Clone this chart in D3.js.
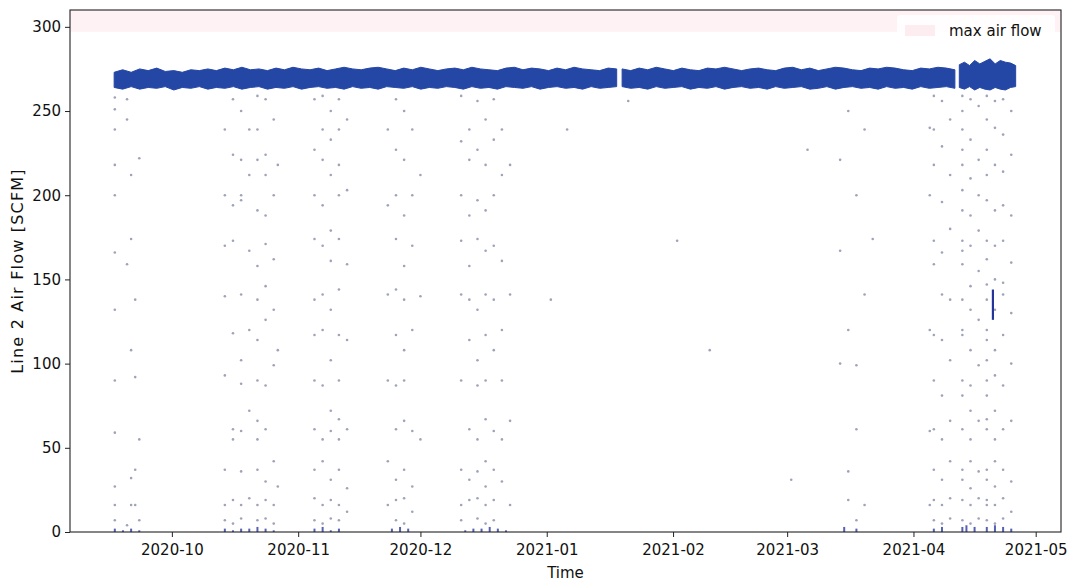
<!DOCTYPE html>
<html>
<head>
<meta charset="utf-8">
<script src="https://cdn.jsdelivr.net/npm/d3@7"></script>
<style>
  html, body { margin: 0; padding: 0; background: #fff; }
  svg text { font-family: "DejaVu Sans", sans-serif; fill: #111; }
</style>
</head>
<body>
<svg id="chart" width="1071" height="584"></svg>
<script>
// x domain of the axes (matplotlib default 5% margins round the data)
const timeDomain = ["2020-09-06T00:00", "2021-05-07T05:00"];
const yTicks = [0, 50, 100, 150, 200, 250, 300];
const maxFlowBand = [297, 310];

// blue band: upper / lower envelope of the dense flow trace, one array per run
const bandStarts = ["2020-09-16T20:00", "2021-01-19T12:00", "2021-04-12T06:00"];
const bandEnds = ["2021-01-18T04:00", "2021-04-11T04:00", "2021-04-26T02:00"];
const bandHigh = [
  [273,274.5,273,275,274,275.5,273.5,274,273,274.5,274,275,274,275.5,274.5,276,274.5,275,274,275.5,274.5,276,275,274.5,275.5,274,275,276,275,274.5,275.5,276,275,274,275.5,274.5,276,275,274,275,275.5,274.5,276,275,274.5,274,275.5,276,274.5,275.5,275,274,275.5,274.5,276,275,274.5,274,275.5,275],
  [275,274,275.5,274.5,276,275,274,275.5,274.5,274,275.5,275,276,275,274,275,275.5,274.5,274,275.5,276,274.5,275.5,274,275,276,275.5,274.5,274,275.5,275,276,275.5,274.5,274,275.5,275,276,275.5,274.5],
  [277.5,279,277,280,278,279.5,281,278,280,279,278.5,277]
];
const bandLow = [
  [264,263,264.5,263,264,263.5,264.5,262.5,264,263.5,264.5,263,264,263.5,264.5,263,264,264.5,263,264,263.5,264.5,263,264,264.5,263.5,264,263,264.5,263.5,264,263,264.5,264,263.5,264.5,263,264,263.5,264.5,264,263,264.5,263.5,264,263,264.5,264,263.5,264.5,263,264,264.5,263.5,264,263,264.5,263.5,264,264.5],
  [264.5,263.5,264,263,264.5,263.5,264,264.5,263,264,263.5,264.5,263,264,264.5,263.5,264,263,264.5,263.5,264,264.5,263,263.5,264.5,263,264,264.5,263.5,264,263,264.5,263.5,264,263,264.5,263.5,264,264.5,263.5],
  [264,263,264.5,262.5,264,263,262.5,264,263,262.5,264,264.5]
];

// scattered readings below the band (day, values on that day)
const dotDays = [
  "2020-09-17","2020-09-20","2020-09-21","2020-09-22","2020-09-23",
  "2020-10-14","2020-10-16","2020-10-18","2020-10-20","2020-10-22","2020-10-24","2020-10-26","2020-10-27",
  "2020-11-05","2020-11-07","2020-11-09","2020-11-11","2020-11-13",
  "2020-11-23","2020-11-25","2020-11-27","2020-11-29","2020-12-01",
  "2020-12-11","2020-12-13","2020-12-15","2020-12-17","2020-12-19","2020-12-21","2020-12-23",
  "2021-01-02","2021-01-06","2021-01-21","2021-02-02","2021-02-10","2021-03-02","2021-03-06",
  "2021-03-14","2021-03-16","2021-03-18","2021-03-20","2021-03-22",
  "2021-04-05","2021-04-06","2021-04-08","2021-04-10","2021-04-13","2021-04-15","2021-04-17",
  "2021-04-19","2021-04-21","2021-04-23","2021-04-25"
];
const dotValues = [
  [258,251,239,218,200,166,132,90,59,27,16,7],
  [257,245,159,4],
  [212,174,108,32,16],
  [138,92,37,16],
  [222,55,7],
  [239,200,170,140,93,37,16,7],
  [257,224,194,173,118,61,55,19,5],
  [250,221,200,197,141,102,88,60,36,16,8],
  [239,212,167,120,72,20],
  [259,239,221,191,158,138,114,90,66,55,37,16,7],
  [257,224,212,188,171,146,126,87,61,30,19,8],
  [245,200,162,132,99,42,16,5],
  [218,108,27],
  [257,227,200,174,138,117,90,61,37,20,7],
  [259,239,221,194,170,141,120,87,55,42,16,5],
  [250,233,212,179,161,132,102,72,60,31,19,8],
  [257,239,218,200,174,144,117,90,67,55,37,16,7],
  [245,203,159,114,61,26,12],
  [239,194,141,90,42,16],
  [257,227,200,174,144,117,87,61,31,19,7],
  [250,221,188,158,138,108,90,66,37,20,5],
  [239,200,170,120,60,27,12],
  [212,140,55],
  [259,232,200,173,141,90,37,16,7],
  [239,221,188,158,138,114,61,31,19],
  [256,227,197,174,132,102,87,55,36,20,8],
  [245,218,191,167,141,117,90,67,42,27,16,5],
  [257,233,200,170,138,108,60,37,19,7],
  [239,212,161,120,90,55,30],
  [218,141,66,16],
  [138],[239],[256],[173],[108],[31],[227],
  [221,167,100],
  [250,120,36,19],
  [200,99,61,7],
  [239,141,16],
  [174],
  [240,200,120,60,16],
  [259,239,218,173,159,117,90,61,37,19,7],
  [256,229,196,166,141,114,81,55,31,16,5],
  [245,212,180,138,102,66,42,20,8],
  [259,250,239,227,218,203,191,173,167,159,138,120,117,90,81,61,37,31,19,7],
  [257,233,210,188,170,146,132,108,87,72,55,42,26,16,5],
  [253,221,200,179,155,126,99,66,36,20,8],
  [259,245,227,212,197,173,162,147,138,120,114,102,90,81,67,61,37,31,19,16,7],
  [256,240,218,191,170,150,132,108,93,72,55,42,27,16,5],
  [257,236,214,194,173,148,141,117,87,61,37,20,8],
  [250,224,188,160,130,100,66,30,12]
];

// near-zero readings drawn in blue along the bottom
const lowDays = ["2020-09-17","2020-09-19","2020-09-21","2020-09-23","2020-10-14","2020-10-16","2020-10-18","2020-10-20","2020-10-22","2020-10-24","2020-10-26",
  "2020-11-05","2020-11-07","2020-11-09","2020-11-11","2020-11-24","2020-11-26","2020-11-28","2020-12-12","2020-12-14","2020-12-16","2020-12-18","2020-12-20","2020-12-22",
  "2021-03-15","2021-03-18","2021-04-06","2021-04-08","2021-04-13","2021-04-14","2021-04-16","2021-04-19","2021-04-21","2021-04-23","2021-04-25"];
const lowValues = [2,1,2,1,2,1,2,2,3,2,1, 2,3,1,2, 2,3,2, 1,2,2,3,2,1, 3,2, 2,3,3,4,3,3,4,3,2];

// short dense drop on 20 April
const dropDay = "2021-04-20T12:00";
const dropRange = [126, 144];

const legendLabel = "max air flow";
const xLabel = "Time";
const yLabel = "Line 2 Air Flow [SCFM]";

const parse = d3.isoParse;
const margin = { left: 70, top: 10, right: 1061, bottom: 532 };
const svg = d3.select("#chart");

const x = d3.scaleTime().domain(timeDomain.map(parse)).range([margin.left, margin.right]);
const y = d3.scaleLinear().domain([0, 310]).range([margin.bottom, margin.top]);

svg.append("defs").append("clipPath").attr("id", "plot")
  .append("rect")
  .attr("x", margin.left).attr("y", margin.top)
  .attr("width", margin.right - margin.left).attr("height", margin.bottom - margin.top);

const plot = svg.append("g").attr("clip-path", "url(#plot)");

// max air flow span
plot.append("rect")
  .attr("x", margin.left).attr("width", margin.right - margin.left)
  .attr("y", y(maxFlowBand[1])).attr("height", y(maxFlowBand[0]) - y(maxFlowBand[1]))
  .attr("fill", "#fef2f5");

// scattered readings
const dots = [];
dotDays.forEach((d, i) => dotValues[i].forEach(v => dots.push([parse(d), v])));
plot.append("g").selectAll("circle")
  .data(dots)
  .join("circle")
  .attr("cx", d => x(d[0]))
  .attr("cy", d => y(d[1]))
  .attr("r", 1.3)
  .attr("fill", "#2a3263")
  .attr("opacity", 0.45);

// band runs
const area = d3.area()
  .x(d => x(d.t))
  .y0(d => y(d.lo))
  .y1(d => y(d.hi));
bandStarts.forEach((s, k) => {
  const n = bandHigh[k].length;
  const pos = d3.scaleLinear().domain([0, n - 1]).range([parse(s), parse(bandEnds[k])]);
  const pts = bandHigh[k].map((h, i) => ({ t: new Date(pos(i)), hi: h, lo: bandLow[k][i] }));
  plot.append("path")
    .datum(pts)
    .attr("d", area)
    .attr("fill", "#2446a5")
    .attr("stroke", "#2446a5")
    .attr("stroke-width", 1);
});

// drop line
plot.append("line")
  .attr("x1", x(parse(dropDay))).attr("x2", x(parse(dropDay)))
  .attr("y1", y(dropRange[0])).attr("y2", y(dropRange[1]))
  .attr("stroke", "#23359a").attr("stroke-width", 2.2);

// near-zero readings
plot.append("g").selectAll("rect")
  .data(lowDays.map((d, i) => [parse(d), lowValues[i]]))
  .join("rect")
  .attr("x", d => x(d[0]) - 1)
  .attr("y", d => y(d[1]))
  .attr("width", 2)
  .attr("height", d => y(0) - y(d[1]))
  .attr("fill", "#2b3aa0")
  .attr("opacity", 0.8);

// axes
const xAxis = d3.axisBottom(x)
  .ticks(d3.timeMonth.every(1))
  .tickFormat(d3.timeFormat("%Y-%m"))
  .tickSizeOuter(0).tickSize(5).tickPadding(4);
const yAxis = d3.axisLeft(y)
  .tickValues(yTicks)
  .tickSizeOuter(0).tickSize(5).tickPadding(4);

const gx = svg.append("g").attr("transform", `translate(0,${margin.bottom})`).call(xAxis);
const gy = svg.append("g").attr("transform", `translate(${margin.left},0)`).call(yAxis);
[gx, gy].forEach(g => {
  g.select(".domain").remove();
  g.selectAll("line").attr("stroke", "#222").attr("stroke-width", 1);
  g.selectAll("text").attr("font-size", 15).attr("fill", "#111")
    .attr("font-family", "DejaVu Sans, sans-serif");
});
gx.selectAll("text").attr("dy", "0.95em");

// frame
svg.append("rect")
  .attr("x", margin.left).attr("y", margin.top)
  .attr("width", margin.right - margin.left).attr("height", margin.bottom - margin.top)
  .attr("fill", "none").attr("stroke", "#222").attr("stroke-width", 1.1);

// labels
svg.append("text")
  .attr("x", (margin.left + margin.right) / 2).attr("y", 578)
  .attr("text-anchor", "middle").attr("font-size", 15)
  .text(xLabel);
svg.append("text")
  .attr("transform", `translate(23,${(margin.top + margin.bottom) / 2}) rotate(-90)`)
  .attr("text-anchor", "middle").attr("font-size", 16)
  .attr("letter-spacing", 1.2)
  .text(yLabel);

// legend (semi-opaque white frame like matplotlib)
const lg = svg.append("g").attr("transform", "translate(897,15)");
lg.append("rect").attr("width", 158).attr("height", 32).attr("rx", 3)
  .attr("fill", "#fff").attr("fill-opacity", 0.8);
lg.append("rect").attr("x", 8).attr("y", 10).attr("width", 30).attr("height", 11).attr("fill", "#fdecf0");
lg.append("text").attr("x", 52).attr("y", 16).attr("dy", "0.35em")
  .attr("font-size", 15).text(legendLabel);
</script>
</body>
</html>
